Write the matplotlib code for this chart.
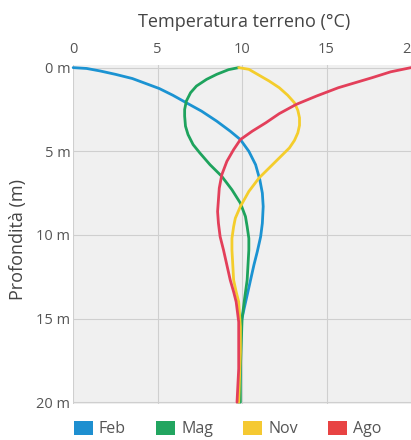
import matplotlib
matplotlib.use("Agg")
import matplotlib.pyplot as plt
from matplotlib.patches import Patch

plt.rcParams['font.family'] = ['Open Sans', 'DejaVu Sans']

# depth (m) and soil temperature (°C)
feb_depth = [0, 0.05, 0.2, 0.4, 0.65, 0.95, 1.25, 1.65, 2.1, 2.6, 3.2, 3.8, 4.3, 5.0, 5.8,
             6.7, 7.5, 8.3, 9.3, 10.1, 11.0, 11.8, 12.7, 13.6, 14.5, 15.2, 16.5, 18, 20]
feb_temp = [0, 0.8, 1.6, 2.5, 3.5, 4.3, 5.1, 5.9, 6.7, 7.6, 8.5, 9.3, 9.9, 10.4, 10.8,
            11.05, 11.2, 11.25, 11.2, 11.1, 10.9, 10.7, 10.5, 10.3, 10.1, 9.95, 9.9, 9.9, 9.8]

mag_depth = [0, 0.12, 0.4, 0.7, 1.1, 1.5, 2.0, 2.5, 2.9, 3.5, 4.0, 4.6, 5.1, 5.8, 6.5, 7.3,
             8.1, 8.9, 9.5, 10.2, 10.9, 11.8, 12.7, 13.8, 15, 16.5, 18, 20]
mag_temp = [9.8, 9.2, 8.5, 7.9, 7.3, 6.95, 6.7, 6.6, 6.6, 6.65, 6.8, 7.1, 7.5, 8.1, 8.8, 9.4,
            9.9, 10.2, 10.3, 10.4, 10.4, 10.35, 10.3, 10.15, 10.0, 9.95, 9.9, 9.9]

nov_depth = [0, 0.1, 0.45, 0.8, 1.2, 1.65, 2.1, 2.55, 3.0, 3.45, 3.9, 4.35, 4.8, 5.2, 5.7, 6.2,
             6.6, 7.4, 8.3, 9.0, 9.5, 10.2, 10.9, 11.8, 12.7, 13.4, 14, 15.5, 17, 18.5, 20]
nov_temp = [9.8, 10.4, 11.0, 11.6, 12.2, 12.7, 13.1, 13.3, 13.4, 13.4, 13.3, 13.1, 12.8, 12.4, 11.9, 11.4,
            11.0, 10.4, 9.9, 9.6, 9.5, 9.4, 9.4, 9.45, 9.5, 9.65, 9.8, 9.9, 9.9, 9.85, 9.8]

ago_depth = [0, 0.25, 0.6, 0.9, 1.2, 1.7, 2.2, 2.75, 3.3, 3.8, 4.3, 4.9, 5.6, 6.4, 7.2, 7.9,
             8.6, 9.3, 10.1, 10.9, 11.8, 12.7, 13.4, 14.0, 15.2, 16.5, 18, 20]
ago_temp = [20, 18.8, 17.7, 16.7, 15.7, 14.4, 13.2, 12.2, 11.4, 10.6, 9.9, 9.5, 9.1, 8.8, 8.65, 8.6,
            8.55, 8.6, 8.7, 8.9, 9.1, 9.3, 9.5, 9.65, 9.8, 9.8, 9.8, 9.7]

months = ['Feb', 'Mag', 'Nov', 'Ago']
colors = ['#1b93d2', '#1ea35d', '#f4cd2c', '#e33f5a']
legend_colors = ['#1e8fd0', '#22a560', '#f5c932', '#e84343']

x_ticks = [0, 5, 10, 15, 20]
y_ticks = [0, 5, 10, 15, 20]
y_ticklabels = ['0 m', '5 m', '10 m', '15 m', '20 m']

fig = plt.figure(figsize=(4.11, 4.40), dpi=100)
ax = fig.add_axes([0.178, 0.082, 0.822, 0.770])
ax.set_facecolor('#f0f0f0')

series = [(feb_temp, feb_depth), (mag_temp, mag_depth), (nov_temp, nov_depth), (ago_temp, ago_depth)]
for (t, d), c in zip(series, colors):
    ax.plot(t, d, color=c, linewidth=2, solid_capstyle='round', solid_joinstyle='round',
            clip_on=False)

ax.set_xlim(0, 20)
ax.set_ylim(20.1, -0.15)
ax.xaxis.tick_top()
ax.set_xticks(x_ticks)
ax.set_yticks(y_ticks)
ax.set_yticklabels(y_ticklabels)
ax.tick_params(axis='both', length=0, labelsize=10.5, labelcolor='#555555')
ax.tick_params(axis='x', pad=6)
ax.tick_params(axis='y', pad=2)
ax.grid(True, color='#cfcfcf', linewidth=0.8)
ax.set_axisbelow(True)
for s in ax.spines.values():
    s.set_visible(False)

fig.text(0.594, 1 - 22 / 440, 'Temperatura terreno (°C)', ha='center', va='center',
         fontsize=13, color='#444444')
fig.text(0.044, 0.455, 'Profondità (m)', ha='center', va='center', rotation=90,
         fontsize=13, color='#444444')

handles = [Patch(facecolor=c, edgecolor='none') for c in legend_colors]
leg = fig.legend(handles, months, loc='center', bbox_to_anchor=(0.554, 1 - 429 / 440), ncol=4,
                 frameon=False, fontsize=11.5, handlelength=1.2, handleheight=1.05,
                 handletextpad=0.35, columnspacing=1.9, labelcolor='#555555')

fig.savefig('out.png', dpi=100, facecolor='white')
